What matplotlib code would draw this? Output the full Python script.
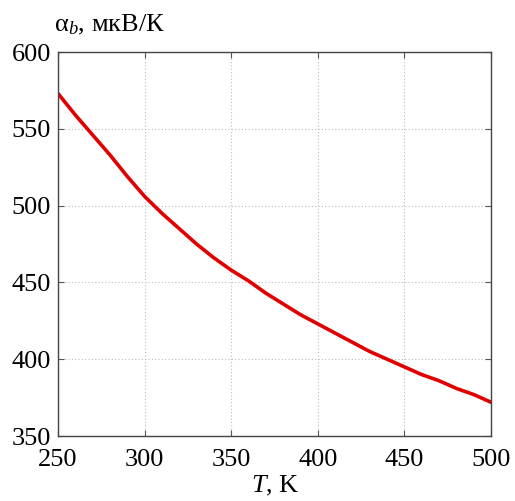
import matplotlib
matplotlib.use("Agg")
import matplotlib.pyplot as plt

T = [250, 260, 270, 280, 290, 300, 310, 320, 330, 340, 350, 360, 370, 380, 390,
     400, 410, 420, 430, 440, 450, 460, 470, 480, 490, 500]
alpha = [573, 559, 546, 533, 519, 506, 495, 485, 475, 466, 458, 451, 443, 436, 429,
         423, 417, 411, 405, 400, 395, 390, 386, 381, 377, 372]
xticks = [250, 300, 350, 400, 450, 500]
yticks = [350, 400, 450, 500, 550, 600]

plt.rcParams['font.family'] = ['Liberation Serif', 'DejaVu Serif']
plt.rcParams['mathtext.fontset'] = 'custom'
plt.rcParams['mathtext.rm'] = 'Liberation Serif'
plt.rcParams['mathtext.it'] = 'Liberation Serif:italic'

fig = plt.figure(figsize=(5.15, 5.01), dpi=100)
ax = fig.add_axes([0.1126, 0.1297, 0.8408, 0.7665])
ax.plot(T, alpha, color='#e00000', lw=2.6)
ax.set_xlim(250, 500)
ax.set_ylim(350, 600)
ax.set_xticks(xticks)
ax.set_yticks(yticks)
ax.tick_params(direction='in', top=True, right=True, labelsize=19, length=4,
               color='#555555')
ax.tick_params(axis='x', pad=9)
ax.tick_params(axis='y', pad=5)
for s in ax.spines.values():
    s.set_color('#444444')
    s.set_linewidth(1.0)
ax.grid(True, linestyle=(0, (1, 2)), color='#bbbbbb', linewidth=0.8)
fig.text(0.105, 0.95, r'$\mathrm{\alpha}_{\mathit{b}}$, мкВ/К', fontsize=19, va='center', ha='left')
fig.text(0.535, 0.005, r'$\mathit{T}$, K', fontsize=19, ha='center', va='bottom')
fig.savefig('out.png', dpi=100)
